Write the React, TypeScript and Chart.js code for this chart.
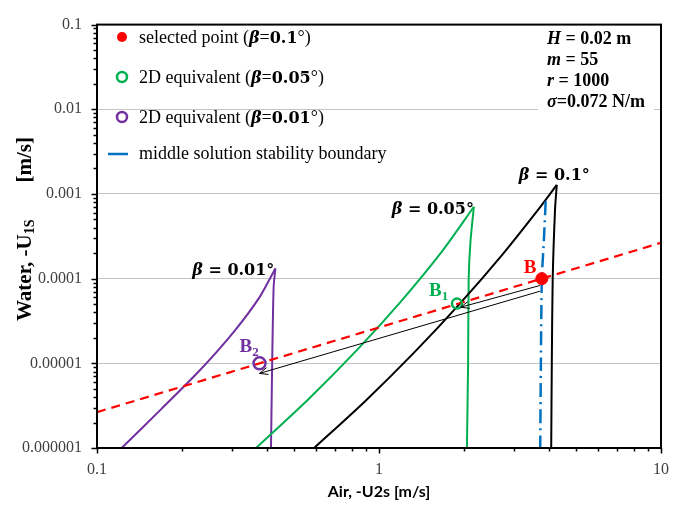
import React, { useEffect, useRef } from 'react';
import { Chart, registerables } from 'chart.js';

Chart.register(...registerables);

// Solution curves, each split into the rising branch and the returning branch
const beta010RiseX = [0.589, 0.893, 1.334, 1.936, 2.734, 3.752, 4.27];
const beta010RiseY = [1e-6, 3.57e-6, 1.345e-5, 5.07e-5, 1.91e-4, 7.19e-4, 1.28e-3];
const beta010FallX = [4.27, 4.21, 4.13, 4.1, 4.08];
const beta010FallY = [1.28e-3, 6.6e-4, 1e-4, 1e-5, 1e-6];

const beta005RiseX = [0.3666, 0.562, 0.833, 1.195, 1.657, 2.17];
const beta005RiseY = [1e-6, 3.77e-6, 1.42e-5, 5.35e-5, 2.01e-4, 7.06e-4];
const beta005FallX = [2.17, 2.11, 2.08, 2.07, 2.05];
const beta005FallY = [7.06e-4, 2.72e-4, 1e-4, 1e-5, 1e-6];

const beta001RiseX = [0.1223, 0.1686, 0.2316, 0.3066, 0.3773, 0.429];
const beta001RiseY = [1e-6, 2.86e-6, 8.28e-6, 2.39e-5, 6.05e-5, 1.32e-4];
const beta001FallX = [0.429, 0.423, 0.418, 0.414];
const beta001FallY = [1.32e-4, 7.9e-5, 1e-5, 1e-6];

// Middle solution stability boundary
const boundaryX = [3.9, 3.84, 3.78, 3.75, 3.73];
const boundaryY = [8.2e-4, 2.7e-4, 1e-4, 1e-5, 1e-6];

// Operating line through the selected point
const operatingX = [0.1, 10];
const operatingY = [2.65e-6, 2.65e-4];

// Selected point B and its 2D equivalents B1, B2
const pointNames = ['B', 'B', 'B'];
const pointSubs = ['', '1', '2'];
const pointX = [3.78, 1.89, 0.377];
const pointY = [1e-4, 5.07e-5, 1e-5];

// Arrows from B to the equivalents
const arrowFromX = [3.72, 3.72];
const arrowFromY = [8.3e-5, 7.1e-5];
const arrowToX = [1.95, 0.377];
const arrowToY = [4.6e-5, 7.6e-6];

const xTickValues = [0.1, 1, 10];
const xTickLabels = ['0.1', '1', '10'];
const yTickValues = [1e-6, 1e-5, 1e-4, 1e-3, 1e-2, 1e-1];
const yTickLabels = ['0.000001', '0.00001', '0.0001', '0.001', '0.01', '0.1'];

const curveAngles = ['0.1', '0.05', '0.01'];
const legendAngles = ['0.1', '0.05', '0.01'];
const legendTexts = ['selected point (', '2D equivalent (', '2D equivalent ('];
const boundaryLabel = 'middle solution stability boundary';

const paramSymbols = ['H', 'm', 'r', 'σ'];
const paramValues = [' = 0.02 m', ' = 55', ' = 1000', '=0.072 N/m'];

const RED = '#ff0000';
const GREEN = '#00b050';
const PURPLE = '#7030a0';
const BLUE = '#0070c0';
const BLACK = '#000000';

const SERIF = '"Liberation Serif", "Times New Roman", serif';
const MATH = '"DejaVu Serif", serif';

const zip = (xs: number[], ys: number[]) => xs.map((x, i) => ({ x, y: ys[i] }));

type Part = { text: string; font: string; color: string; dy?: number };

function drawRich(ctx: CanvasRenderingContext2D, x: number, y: number, parts: Part[], align: 'left' | 'right' | 'center' = 'left') {
  let total = 0;
  for (const p of parts) {
    ctx.font = p.font;
    total += ctx.measureText(p.text).width;
  }
  let cx = align === 'left' ? x : align === 'right' ? x - total : x - total / 2;
  ctx.textAlign = 'left';
  ctx.textBaseline = 'alphabetic';
  for (const p of parts) {
    ctx.font = p.font;
    ctx.fillStyle = p.color;
    ctx.fillText(p.text, cx, y + (p.dy || 0));
    cx += ctx.measureText(p.text).width;
  }
  return total;
}

const curveStyle = (color: string) => ({
  borderColor: color,
  borderWidth: 2,
  pointRadius: 0,
  tension: 0.25,
  fill: false,
  showLine: true,
});

const overlayPlugin = {
  id: 'overlay',
  beforeDatasetsDraw(chart: any) {
    const ctx = chart.ctx as CanvasRenderingContext2D;
    // white panel behind the parameter block
    ctx.save();
    ctx.fillStyle = '#ffffff';
    ctx.fillRect(538, 24, 116, 90);
    ctx.restore();
  },
  afterDatasetsDraw(chart: any) {
    const ctx = chart.ctx as CanvasRenderingContext2D;
    const xs = chart.scales.x;
    const ys = chart.scales.y;
    ctx.save();
    // open arrowheads
    ctx.strokeStyle = BLACK;
    ctx.lineWidth = 1;
    for (let i = 0; i < arrowToX.length; i++) {
      const x0 = xs.getPixelForValue(arrowFromX[i]);
      const y0 = ys.getPixelForValue(arrowFromY[i]);
      const x1 = xs.getPixelForValue(arrowToX[i]);
      const y1 = ys.getPixelForValue(arrowToY[i]);
      const a = Math.atan2(y1 - y0, x1 - x0);
      const len = 9;
      ctx.beginPath();
      ctx.moveTo(x1 - len * Math.cos(a - 0.4), y1 - len * Math.sin(a - 0.4));
      ctx.lineTo(x1, y1);
      ctx.lineTo(x1 - len * Math.cos(a + 0.4), y1 - len * Math.sin(a + 0.4));
      ctx.stroke();
    }
    ctx.restore();
  },
  afterDraw(chart: any) {
    const ctx = chart.ctx as CanvasRenderingContext2D;
    const area = chart.chartArea;
    const xs = chart.scales.x;
    const ys = chart.scales.y;
    ctx.save();

    // frame
    ctx.strokeStyle = BLACK;
    ctx.lineWidth = 2;
    ctx.strokeRect(area.left, area.top, area.right - area.left, area.bottom - area.top);

    // tick marks, major and minor, on the outside
    ctx.lineWidth = 1.5;
    ctx.beginPath();
    for (let e = -6; e <= -1; e++) {
      for (let m = 1; m <= 9; m++) {
        const v = m * Math.pow(10, e);
        if (v > 0.1 * 1.0001) continue;
        const py = Math.round(ys.getPixelForValue(v)) + 0.5;
        const len = m === 1 ? 5.5 : 3.5;
        ctx.moveTo(area.left - len, py);
        ctx.lineTo(area.left, py);
      }
    }
    for (let e = -1; e <= 1; e++) {
      for (let m = 1; m <= 9; m++) {
        const v = m * Math.pow(10, e);
        if (v > 10 * 1.0001) continue;
        const px = Math.round(xs.getPixelForValue(v)) + 0.5;
        const len = m === 1 ? 5.5 : 3.5;
        ctx.moveTo(px, area.bottom);
        ctx.lineTo(px, area.bottom + len);
      }
    }
    ctx.stroke();

    // axis titles
    ctx.fillStyle = BLACK;
    ctx.font = 'bold 16px Lato, "Open Sans", sans-serif';
    ctx.textAlign = 'center';
    ctx.textBaseline = 'alphabetic';
    ctx.fillText('Air, -U2s [m/s]', (area.left + area.right) / 2, 497);

    ctx.save();
    ctx.translate(31, 0);
    ctx.rotate(-Math.PI / 2);
    // rotated frame: x runs upward on the page (x = -pageY)
    drawRich(ctx, -321, 0, [
      { text: 'Water, -U', font: `bold 21px ${SERIF}`, color: BLACK },
      { text: '1S', font: `bold 14px ${SERIF}`, color: BLACK, dy: 3 },
    ]);
    drawRich(ctx, -137, 0, [{ text: '[m/s]', font: `bold 21px ${SERIF}`, color: BLACK }], 'right');
    ctx.restore();

    // legend
    const rowBase = [43, 83, 123, 159];
    const markerColors = [RED, GREEN, PURPLE];
    const mx = 122;
    for (let i = 0; i < 3; i++) {
      const cy = rowBase[i] - 6;
      ctx.beginPath();
      ctx.arc(mx, cy, 5, 0, Math.PI * 2);
      if (i === 0) {
        ctx.fillStyle = RED;
        ctx.fill();
      } else {
        ctx.strokeStyle = markerColors[i];
        ctx.lineWidth = 2.5;
        ctx.stroke();
      }
      drawRich(ctx, 139, rowBase[i], [
        { text: legendTexts[i], font: `18px ${SERIF}`, color: BLACK },
        { text: 'β', font: `italic bold 16px ${MATH}`, color: BLACK },
        { text: '=', font: `18px ${SERIF}`, color: BLACK },
        { text: legendAngles[i], font: `bold 16px ${MATH}`, color: BLACK },
        { text: '°)', font: `18px ${SERIF}`, color: BLACK },
      ]);
    }
    ctx.strokeStyle = BLUE;
    ctx.lineWidth = 2.5;
    ctx.beginPath();
    ctx.moveTo(108, rowBase[3] - 5);
    ctx.lineTo(128, rowBase[3] - 5);
    ctx.stroke();
    drawRich(ctx, 139, rowBase[3], [{ text: boundaryLabel, font: `18px ${SERIF}`, color: BLACK }]);

    // parameter block
    const paramBase = [44, 65, 86, 107];
    for (let i = 0; i < paramSymbols.length; i++) {
      drawRich(ctx, 547, paramBase[i], [
        { text: paramSymbols[i], font: `italic bold 18px ${SERIF}`, color: BLACK },
        { text: paramValues[i], font: `bold 18px ${SERIF}`, color: BLACK },
      ]);
    }

    // curve labels anchored at each peak
    const peaks = [
      { x: beta010RiseX[beta010RiseX.length - 1], y: beta010RiseY[beta010RiseY.length - 1], dx: -38, dy: -5, align: 'left' as const },
      { x: beta005RiseX[beta005RiseX.length - 1], y: beta005RiseY[beta005RiseY.length - 1], dx: 0, dy: 7, align: 'right' as const },
      { x: beta001RiseX[beta001RiseX.length - 1], y: beta001RiseY[beta001RiseY.length - 1], dx: -1, dy: 7, align: 'right' as const },
    ];
    peaks.forEach((p, i) => {
      const px = xs.getPixelForValue(p.x) + p.dx;
      const py = ys.getPixelForValue(p.y) + p.dy;
      drawRich(ctx, px, py, [
        { text: 'β', font: `italic bold 16px ${MATH}`, color: BLACK },
        { text: ' = ' + curveAngles[i] + '°', font: `bold 16px ${MATH}`, color: BLACK },
      ], p.align);
    });

    // point labels
    const labelColors = [RED, GREEN, PURPLE];
    const labelOffsets = [
      { dx: -18, dy: -6 },
      { dx: -28, dy: -8 },
      { dx: -20, dy: -11 },
    ];
    for (let i = 0; i < pointX.length; i++) {
      const px = xs.getPixelForValue(pointX[i]) + labelOffsets[i].dx;
      const py = ys.getPixelForValue(pointY[i]) + labelOffsets[i].dy;
      drawRich(ctx, px, py, [
        { text: pointNames[i], font: `bold 19px ${SERIF}`, color: labelColors[i] },
        { text: pointSubs[i], font: `bold 13px ${SERIF}`, color: labelColors[i], dy: 4 },
      ]);
    }

    ctx.restore();
  },
};

export default function App() {
  const canvasRef = useRef<HTMLCanvasElement>(null);

  useEffect(() => {
    if (!canvasRef.current) return;
    const tickFont = { family: SERIF, size: 16 };
    const chart = new Chart(canvasRef.current, {
      type: 'scatter',
      data: {
        datasets: [
          {
            label: 'B',
            data: zip(pointX.slice(0, 1), pointY.slice(0, 1)),
            pointRadius: 6,
            pointBackgroundColor: RED,
            pointBorderColor: RED,
            pointBorderWidth: 1,
            showLine: false,
          },
          {
            label: 'B1',
            data: zip(pointX.slice(1, 2), pointY.slice(1, 2)),
            pointRadius: 5,
            pointBackgroundColor: 'rgba(0,0,0,0)',
            pointBorderColor: GREEN,
            pointBorderWidth: 2.5,
            showLine: false,
          },
          {
            label: 'B2',
            data: zip(pointX.slice(2, 3), pointY.slice(2, 3)),
            pointRadius: 6,
            pointBackgroundColor: 'rgba(0,0,0,0)',
            pointBorderColor: PURPLE,
            pointBorderWidth: 2.5,
            showLine: false,
          },
          ...arrowToX.map((_, i) => ({
            label: 'arrow' + i,
            data: [
              { x: arrowFromX[i], y: arrowFromY[i] },
              { x: arrowToX[i], y: arrowToY[i] },
            ],
            borderColor: BLACK,
            borderWidth: 1,
            pointRadius: 0,
            showLine: true,
          })),
          {
            label: 'operating line',
            data: zip(operatingX, operatingY),
            borderColor: RED,
            borderWidth: 2.2,
            borderDash: [9, 6],
            pointRadius: 0,
            showLine: true,
          },
          {
            label: 'middle solution stability boundary',
            data: zip(boundaryX, boundaryY),
            borderColor: BLUE,
            borderWidth: 2.5,
            borderDash: [14, 5, 2, 5],
            pointRadius: 0,
            tension: 0.3,
            showLine: true,
          },
          { label: 'β=0.1 rise', data: zip(beta010RiseX, beta010RiseY), ...curveStyle(BLACK) },
          { label: 'β=0.1 fall', data: zip(beta010FallX, beta010FallY), ...curveStyle(BLACK) },
          { label: 'β=0.05 rise', data: zip(beta005RiseX, beta005RiseY), ...curveStyle(GREEN) },
          { label: 'β=0.05 fall', data: zip(beta005FallX, beta005FallY), ...curveStyle(GREEN) },
          { label: 'β=0.01 rise', data: zip(beta001RiseX, beta001RiseY), ...curveStyle(PURPLE) },
          { label: 'β=0.01 fall', data: zip(beta001FallX, beta001FallY), ...curveStyle(PURPLE) },
        ],
      },
      options: {
        responsive: false,
        animation: false,
        devicePixelRatio: 1,
        layout: { padding: { top: 14, right: 18, left: 0, bottom: 0 } },
        plugins: {
          legend: { display: false },
          tooltip: { enabled: false },
        },
        scales: {
          x: {
            type: 'logarithmic',
            position: 'bottom',
            min: 0.1,
            max: 10,
            afterBuildTicks: (scale: any) => {
              scale.ticks = xTickValues.map((v) => ({ value: v }));
            },
            afterFit: (scale: any) => {
              scale.height = 57;
            },
            ticks: {
              callback: (_v: any, i: number) => xTickLabels[i],
              font: tickFont,
              color: '#404040',
              padding: 12,
              maxRotation: 0,
              autoSkip: false,
            },
            grid: { drawOnChartArea: false, drawTicks: false },
            border: { display: false },
          },
          y: {
            type: 'logarithmic',
            position: 'left',
            min: 1e-6,
            max: 0.1,
            afterBuildTicks: (scale: any) => {
              scale.ticks = yTickValues.map((v) => ({ value: v }));
            },
            afterFit: (scale: any) => {
              scale.width = 97;
            },
            ticks: {
              callback: (_v: any, i: number) => yTickLabels[i],
              font: tickFont,
              color: '#404040',
              padding: 15,
              autoSkip: false,
            },
            grid: { color: '#c4c4c4', lineWidth: 1, drawTicks: false },
            border: { display: false },
          },
        },
      } as any,
      plugins: [overlayPlugin],
    });
    return () => chart.destroy();
  }, []);

  return (
    <div style={{ position: 'fixed', left: 0, top: 0, width: 681, height: 505, background: '#ffffff' }}>
      <canvas ref={canvasRef} width={681} height={505} style={{ display: 'block' }} />
    </div>
  );
}
